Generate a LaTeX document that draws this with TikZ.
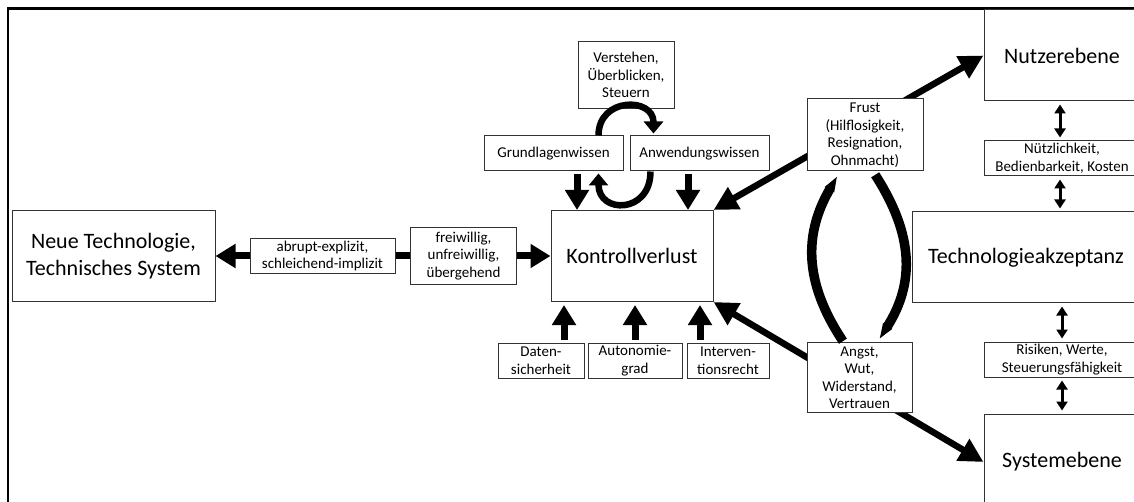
\documentclass[tikz,border=0pt]{standalone}
\usepackage{fontspec}
\setmainfont{Carlito}
\usetikzlibrary{arrows.meta}

\begin{document}
\begin{tikzpicture}[
	x=1pt, y=1pt,
	box/.style={rectangle, draw=black!80, line width=1pt, fill=white, inner sep=0pt,
		align=center, text=black, font=\fontsize{15}{17.5}\selectfont},
	big/.style={box, font=\fontsize{22}{27}\selectfont},
	fat/.style={line width=7pt, -{Triangle[width=23pt,length=20pt]}},
	fatbar/.style={line width=7pt},
	dfat/.style={line width=6.5pt, {Triangle[width=24pt,length=24pt]}-{Triangle[width=24pt,length=24pt]}},
	dbl/.style={line width=3pt, {Triangle[width=11pt,length=9pt]}-{Triangle[width=11pt,length=9pt]},
		shorten <=3pt, shorten >=3pt},
	cyc/.style={line width=6.5pt, -{Triangle[width=19pt,length=12pt]}},
	swing/.style={line width=9.5pt, -{Triangle[width=0pt 1,length=16pt]}}
	]
	\useasboundingbox (0,0) rectangle (1134,-502);
	\draw[line width=2.7pt] (8,-502) -- (8,-8.5) -- (1134,-8.5);

	\node (neu) [big, minimum width=203pt, minimum height=91pt] at (113.5,-256) {Neue Technologie,\\Technisches System};
	\node (abr) [box, minimum width=145pt, minimum height=35pt] at (322.5,-256) {abrupt-explizit,\\schleichend-implizit};
	\node (frei) [box, minimum width=106pt, minimum height=57pt] at (463.5,-256) {freiwillig,\\unfreiwillig,\\übergehend};
	\node (kv) [big, minimum width=162pt, minimum height=91pt] at (632,-256) {Kontrollverlust};
	\node (vst) [box, minimum width=96pt, minimum height=67pt] at (626,-75) {Verstehen,\\Überblicken,\\Steuern};
	\node (gw) [box, minimum width=139pt, minimum height=35pt] at (553.5,-153.5) {Grundlagenwissen};
	\node (aw) [box, minimum width=139pt, minimum height=35pt] at (699.5,-153.5) {Anwendungswissen};
	\node (ds) [box, minimum width=86pt, minimum height=35pt] at (541,-360.5) {Daten-\\sicherheit};
	\node (ag) [box, minimum width=94pt, minimum height=35pt] at (635,-360.5) {Autonomie-\\grad};
	\node (ir) [box, minimum width=82pt, minimum height=35pt] at (728,-360.5) {Interven-\\tionsrecht};
	\node (nu) [big, minimum width=156pt, minimum height=91pt] at (1062,-55.5) {Nutzerebene};
	\node (nz) [box, minimum width=156pt, minimum height=35pt] at (1062,-158.5) {Nützlichkeit,\\Bedienbarkeit, Kosten};
	\node (ta) [big, minimum width=228pt, minimum height=91pt] at (1026,-257.5) {Technologieakzeptanz};
	\node (rw) [box, minimum width=156pt, minimum height=35pt] at (1062,-359.5) {Risiken, Werte,\\Steuerungsfähigkeit};
	\node (se) [big, minimum width=156pt, minimum height=96pt] at (1062,-462) {Systemebene};

	\draw[fat] (abr.west) -- (neu.east);
	\draw[fatbar] (abr.east) -- (frei.west);
	\draw[fat] (frei.east) -- (kv.west);

	\draw[fat, shorten <=3pt] ([xshift=23.5pt]gw.south) -- ([xshift=23.5pt]gw.south |- kv.north);
	\draw[fat, shorten <=3pt] ([xshift=-11.5pt]aw.south) -- ([xshift=-11.5pt]aw.south |- kv.north);
	\draw[fat, shorten <=3pt, shorten >=3pt] ([xshift=23pt]ds.north) -- ([xshift=23pt]ds.north |- kv.south);
	\draw[fat, shorten <=3pt, shorten >=3pt] (ag.north) -- (ag.north |- kv.south);
	\draw[fat, shorten <=3pt, shorten >=3pt] ([xshift=-28pt]ir.north) -- ([xshift=-28pt]ir.north |- kv.south);

	\draw[cyc, shorten >=2pt] ([xshift=45pt]gw.north) to[out=90, in=90, looseness=1.8] ([xshift=-46pt]aw.north);
	\draw[cyc, shorten >=2pt] ([xshift=-49pt]aw.south) to[out=-90, in=-90, looseness=2.1] ([xshift=45pt]gw.south);

	\draw[dfat] (kv.north east) -- (nu.west);
	\draw[dfat] (kv.south east) -- (se.west);

	\node (fr) [box, minimum width=116pt, minimum height=72pt] at (865,-135) {Frust\\(Hilflosigkeit,\\Resignation,\\Ohnmacht)};
	\node (an) [box, minimum width=105pt, minimum height=70pt] at (859.5,-377.5) {Angst,\\Wut,\\Widerstand,\\Vertrauen};

	\draw[swing, shorten >=5pt, shorten <=1pt] ([xshift=-16pt]an.north) .. controls +(-40,60) and +(-36,-62) .. ([xshift=-25pt]fr.south);
	\draw[swing, shorten >=3pt, shorten <=4pt] ([xshift=8pt]fr.south) .. controls +(40,-62) and +(38,60) .. ([xshift=18pt]an.north);

	\draw[dbl] ([xshift=-2pt]nu.south) -- ([xshift=-2pt]nz.north);
	\draw[dbl] ([xshift=-2pt]nz.south) -- ([xshift=-2pt]nz.south |- ta.north);
	\draw[dbl] (rw.north |- ta.south) -- (rw.north);
	\draw[dbl] (rw.south) -- (se.north);
\end{tikzpicture}
\end{document}
